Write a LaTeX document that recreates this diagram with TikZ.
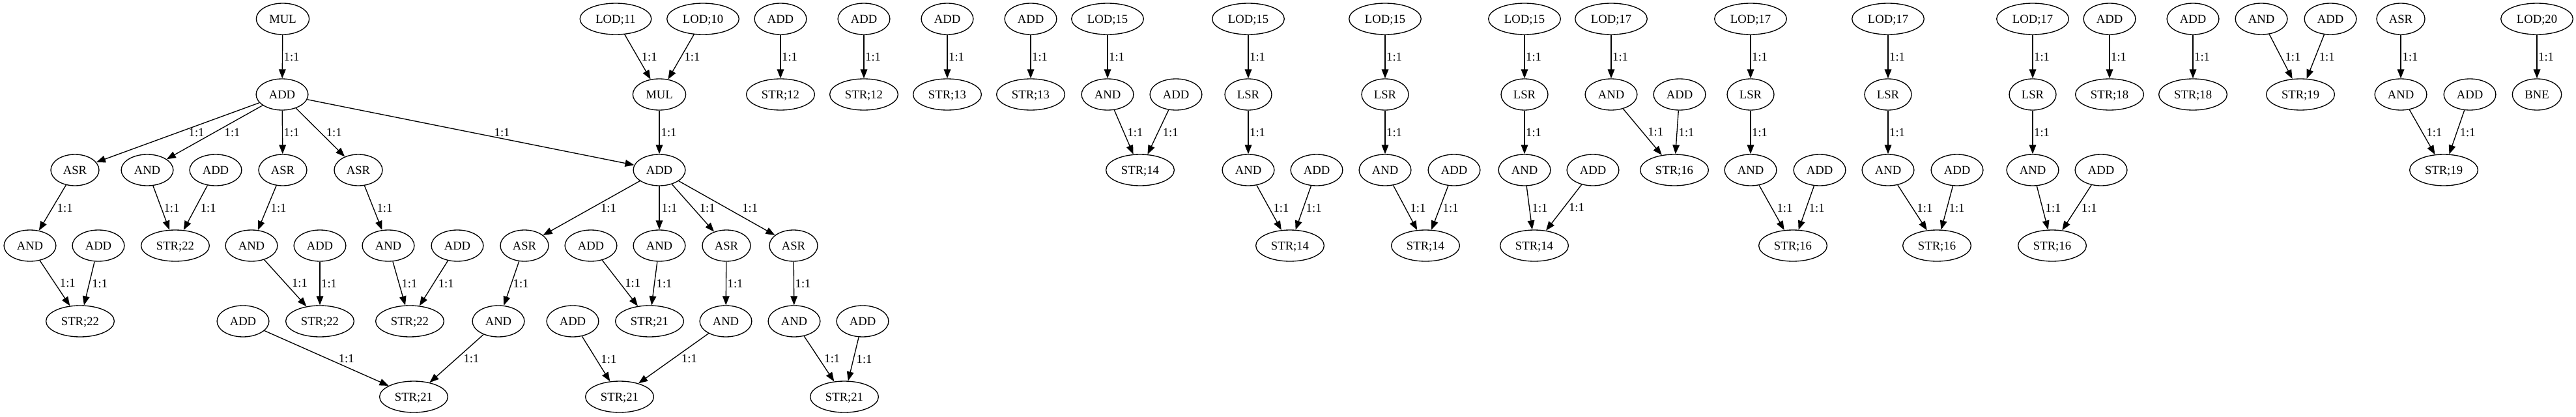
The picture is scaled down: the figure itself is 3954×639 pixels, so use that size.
\documentclass[tikz,border=0pt]{standalone}
\usepackage{fontspec}
\setmainfont{Liberation Serif}
\usetikzlibrary{shapes.geometric,arrows.meta}
\newcommand{\gvfont}{\fontsize{14}{16.8}\selectfont}
\tikzset{
  g/.style={draw, ellipse, line width=1pt, inner xsep=6pt, inner ysep=2pt,
    minimum height=36pt, minimum width=54pt, text height=9.3pt, text depth=0pt, font=\gvfont},
  gedge/.style={line width=1pt, -{Triangle[length=10.5pt,width=8pt]}},
  glab/.style={midway, anchor=west, inner sep=0pt, text height=9.5pt, text depth=0pt, font=\gvfont}
}
\newcommand{\gedge}[3]{\draw[gedge] (#1) -- node[glab,xshift=#3*0.75pt]{1:1} (#2);}
\begin{document}
\begin{tikzpicture}[x=0.75pt,y=-0.75pt]
\useasboundingbox (0,0) rectangle (3954,639);
% component 1
\node[g] (mulA) at (434,29) {MUL};
\node[g] (addA) at (433,145) {ADD};
\node[g] (asr1) at (115,261) {ASR};
\node[g] (and1) at (226,261) {AND};
\node[g] (add1) at (331,261) {ADD};
\node[g] (asr2) at (434,261) {ASR};
\node[g] (asr3) at (550,261) {ASR};
\node[g] (and4a) at (46,377) {AND};
\node[g] (add4a) at (151,377) {ADD};
\node[g] (str22a) at (269,377) {STR;22};
\node[g] (and4b) at (386,377) {AND};
\node[g] (add4b) at (491,377) {ADD};
\node[g] (and4c) at (596,377) {AND};
\node[g] (add4c) at (702,377) {ADD};
\node[g] (str22b) at (123,493) {STR;22};
\node[g] (add5a) at (373,493) {ADD};
\node[g] (str22c) at (491,493) {STR;22};
\node[g] (str22d) at (629,493) {STR;22};
\node[g] (str21a) at (635,609) {STR;21};
% component 2
\node[g] (lod11) at (945,29) {LOD;11};
\node[g] (lod10) at (1079,29) {LOD;10};
\node[g] (mulB) at (1012,145) {MUL};
\node[g] (addB) at (1012,261) {ADD};
\node[g] (asr4) at (805,377) {ASR};
\node[g] (add4d) at (907,377) {ADD};
\node[g] (and4d) at (1012,377) {AND};
\node[g] (asr5) at (1115,377) {ASR};
\node[g] (asr6) at (1218,377) {ASR};
\node[g] (and5a) at (765,493) {AND};
\node[g] (add5b) at (879,493) {ADD};
\node[g] (str21b) at (997,493) {STR;21};
\node[g] (and5b) at (1114,493) {AND};
\node[g] (and5c) at (1219,493) {AND};
\node[g] (add5c) at (1324,493) {ADD};
\node[g] (str21c) at (951,609) {STR;21};
\node[g] (str21d) at (1296,609) {STR;21};
% small components
\node[g] (adds1) at (1198,29) {ADD};
\node[g] (str12a) at (1198,145) {STR;12};
\node[g] (adds2) at (1326,29) {ADD};
\node[g] (str12b) at (1326,145) {STR;12};
\node[g] (adds3) at (1454,29) {ADD};
\node[g] (str13a) at (1454,145) {STR;13};
\node[g] (adds4) at (1582,29) {ADD};
\node[g] (str13b) at (1582,145) {STR;13};
\node[g] (lod15a) at (1700,29) {LOD;15};
\node[g] (andp1) at (1700,145) {AND};
\node[g] (addp1) at (1805,145) {ADD};
\node[g] (str14a) at (1750,261) {STR;14};
\node[g] (lod15b) at (1916,29) {LOD;15};
\node[g] (lsrb) at (1916,145) {LSR};
\node[g] (andb) at (1916,261) {AND};
\node[g] (addb2) at (2021,261) {ADD};
\node[g] (str14b) at (1980,377) {STR;14};
\node[g] (lod15c) at (2126,29) {LOD;15};
\node[g] (lsrc) at (2126,145) {LSR};
\node[g] (andc) at (2126,261) {AND};
\node[g] (addc) at (2232,261) {ADD};
\node[g] (str14c) at (2188,377) {STR;14};
\node[g] (lod15d) at (2340,29) {LOD;15};
\node[g] (lsrd) at (2340,145) {LSR};
\node[g] (andd) at (2340,261) {AND};
\node[g] (addd) at (2445,261) {ADD};
\node[g] (str14d) at (2355,377) {STR;14};
\node[g] (lod17a) at (2473,29) {LOD;17};
\node[g] (andq) at (2473,145) {AND};
\node[g] (addq) at (2578,145) {ADD};
\node[g] (str16a) at (2570,261) {STR;16};
\node[g] (lod17b) at (2687,29) {LOD;17};
\node[g] (lsre) at (2687,145) {LSR};
\node[g] (ande) at (2687,261) {AND};
\node[g] (adde) at (2793,261) {ADD};
\node[g] (str16b) at (2752,377) {STR;16};
\node[g] (lod17c) at (2898,29) {LOD;17};
\node[g] (lsrf) at (2898,145) {LSR};
\node[g] (andf) at (2898,261) {AND};
\node[g] (addf) at (3004,261) {ADD};
\node[g] (str16c) at (2973,377) {STR;16};
\node[g] (lod17d) at (3120,29) {LOD;17};
\node[g] (lsrg) at (3120,145) {LSR};
\node[g] (andg) at (3120,261) {AND};
\node[g] (addg) at (3225,261) {ADD};
\node[g] (str16d) at (3150,377) {STR;16};
\node[g] (adds5) at (3238,29) {ADD};
\node[g] (str18a) at (3238,145) {STR;18};
\node[g] (adds6) at (3366,29) {ADD};
\node[g] (str18b) at (3366,145) {STR;18};
\node[g] (ands) at (3471,29) {AND};
\node[g] (adds7) at (3577,29) {ADD};
\node[g] (str19a) at (3531,145) {STR;19};
\node[g] (asrs) at (3685,29) {ASR};
\node[g] (andt) at (3685,145) {AND};
\node[g] (addt) at (3791,145) {ADD};
\node[g] (str19b) at (3751,261) {STR;19};
\node[g] (lod20) at (3894,29) {LOD;20};
\node[g] (bne) at (3894,145) {BNE};
% edges component 1
\gedge{mulA}{addA}{1.5}
\gedge{addA}{asr1}{16}
\gedge{addA}{and1}{14.5}
\gedge{addA}{asr2}{1.5}
\gedge{addA}{asr3}{8.5}
\gedge{addA}{addB}{35.5}
\gedge{asr1}{and4a}{6.5}
\gedge{and1}{str22a}{3.5}
\gedge{add1}{str22a}{7}
\gedge{asr2}{and4b}{5}
\gedge{asr3}{and4c}{5}
\gedge{and4a}{str22b}{7}
\gedge{add4a}{str22b}{3.6}
\gedge{and4b}{str22c}{9.5}
\gedge{add4b}{str22c}{1.5}
\gedge{and4c}{str22d}{3.5}
\gedge{add4c}{str22d}{6.5}
\gedge{add5a}{str21a}{18}
\gedge{and5a}{str21a}{10}
% edges component 2
\gedge{lod11}{mulB}{5.5}
\gedge{lod10}{mulB}{4.5}
\gedge{mulB}{addB}{2}
\gedge{addB}{asr4}{13.5}
\gedge{addB}{and4d}{3}
\gedge{addB}{asr5}{9.5}
\gedge{addB}{asr6}{23}
\gedge{asr4}{and5a}{2}
\gedge{add4d}{str21b}{7}
\gedge{and4d}{str21b}{2.5}
\gedge{asr5}{and5b}{1.5}
\gedge{asr6}{and5c}{1.5}
\gedge{add5b}{str21c}{7}
\gedge{and5b}{str21c}{11.5}
\gedge{and5c}{str21d}{7.5}
\gedge{add5c}{str21d}{4}
% small components
\gedge{adds1}{str12a}{1.5}
\gedge{adds2}{str12b}{1.5}
\gedge{adds3}{str13a}{1.5}
\gedge{adds4}{str13b}{1.5}
\gedge{lod15a}{andp1}{1.5}
\gedge{andp1}{str14a}{5}
\gedge{addp1}{str14a}{6.5}
\gedge{lod15b}{lsrb}{1.5}
\gedge{lsrb}{andb}{1.5}
\gedge{andb}{str14b}{6}
\gedge{addb2}{str14b}{3.5}
\gedge{lod15c}{lsrc}{1.5}
\gedge{lsrc}{andc}{1.5}
\gedge{andc}{str14c}{7}
\gedge{addc}{str14c}{4}
\gedge{lod15d}{lsrd}{1.5}
\gedge{lsrd}{andd}{1.5}
\gedge{andd}{str14d}{3.5}
\gedge{addd}{str14d}{7}
\gedge{lod17a}{andq}{1.5}
\gedge{andq}{str16a}{7.5}
\gedge{addq}{str16a}{2}
\gedge{lod17b}{lsre}{1.5}
\gedge{lsre}{ande}{1.5}
\gedge{ande}{str16b}{7.5}
\gedge{adde}{str16b}{3.5}
\gedge{lod17c}{lsrf}{1.5}
\gedge{lsrf}{andf}{1.5}
\gedge{andf}{str16c}{6.5}
\gedge{addf}{str16c}{2.5}
\gedge{lod17d}{lsrg}{1.5}
\gedge{lsrg}{andg}{1.5}
\gedge{andg}{str16d}{4}
\gedge{addg}{str16d}{6.5}
\gedge{adds5}{str18a}{1.5}
\gedge{adds6}{str18b}{1.5}
\gedge{ands}{str19a}{6}
\gedge{adds7}{str19a}{5}
\gedge{asrs}{andt}{2}
\gedge{andt}{str19b}{6}
\gedge{addt}{str19b}{4}
\gedge{lod20}{bne}{1.5}
\end{tikzpicture}
\end{document}
